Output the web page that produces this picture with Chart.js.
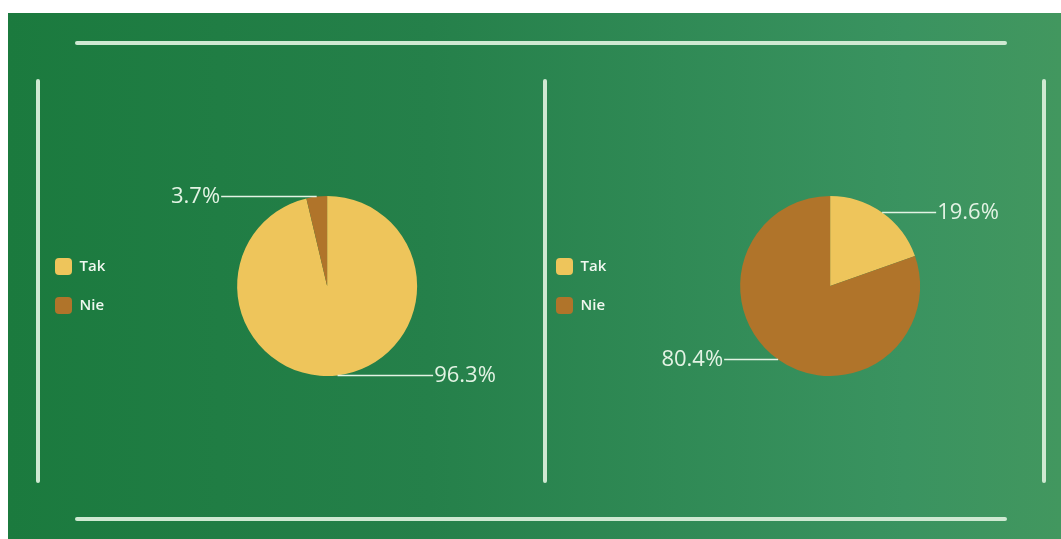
<!DOCTYPE html>
<html>
<head>
<meta charset="utf-8">
<script src="https://cdn.jsdelivr.net/npm/chart.js@4/dist/chart.umd.min.js"></script>
<style>
  html, body { margin: 0; padding: 0; background: #ffffff; width: 1061px; height: 539px; overflow: hidden; }
  #field { position: absolute; left: 8px; top: 13px; width: 1053px; height: 526px;
    background: linear-gradient(to right, #1b7a3e 0%, #25804a 40%, #3a9360 85%, #42975f 100%); }
  .ln { position: absolute; background: #cfe9d2; border-radius: 2px; }
  .wrap { position: absolute; }
</style>
</head>
<body>
<div id="field"></div>
<div class="ln" style="left:75px; top:41px; width:932px; height:4px;"></div>
<div class="ln" style="left:75px; top:517px; width:932px; height:4px;"></div>
<div class="ln" style="left:36px; top:79px; width:4px; height:404px;"></div>
<div class="ln" style="left:543px; top:79px; width:4px; height:404px;"></div>
<div class="ln" style="left:1042px; top:79px; width:4px; height:404px;"></div>
<div class="wrap" style="left:33px; top:136px; width:506px; height:300px;"><canvas id="c1"></canvas></div>
<div class="wrap" style="left:534px; top:136px; width:510px; height:300px;"><canvas id="c2"></canvas></div>
<script>
const categories = ['Tak', 'Nie'];
const chart1Values = [96.3, 3.7];
const chart2Values = [19.6, 80.4];
const sliceColors = ['#eec55b', '#b0742a'];
const textColor = '#e3f3e4';

const leaderLabels = {
  id: 'leaderLabels',
  afterDatasetsDraw(chart) {
    const ctx = chart.ctx;
    const meta = chart.getDatasetMeta(0);
    const data = chart.data.datasets[0].data;
    ctx.save();
    meta.data.forEach((arc, i) => {
      const p = arc.getProps(['x', 'y', 'startAngle', 'endAngle', 'outerRadius'], true);
      const mid = (p.startAngle + p.endAngle) / 2;
      const px = p.x + Math.cos(mid) * p.outerRadius;
      const py = p.y + Math.sin(mid) * p.outerRadius;
      const right = px >= p.x;
      const ex = right ? p.x + p.outerRadius + 16 : p.x - p.outerRadius - 16;
      ctx.strokeStyle = textColor;
      ctx.lineWidth = 1.5;
      ctx.beginPath();
      ctx.moveTo(px, py);
      ctx.lineTo(ex, py);
      ctx.stroke();
      ctx.fillStyle = textColor;
      ctx.font = '22px "Open Sans", sans-serif';
      ctx.textBaseline = 'middle';
      ctx.textAlign = right ? 'left' : 'right';
      ctx.fillText(data[i].toFixed(1) + '%', right ? ex + 1 : ex - 1, py);
    });
    ctx.restore();
  }
};

function makeChart(id, values) {
  return new Chart(document.getElementById(id), {
    type: 'pie',
    data: {
      labels: categories,
      datasets: [{ data: values, backgroundColor: sliceColors, borderWidth: 0 }]
    },
    options: {
      responsive: true,
      maintainAspectRatio: false,
      animation: false,
      layout: { padding: { top: 60, bottom: 60, left: 0, right: 0 } },
      plugins: {
        tooltip: { enabled: false },
        legend: {
          position: 'left',
          labels: {
            color: '#f0f8f0',
            font: { family: '"Open Sans", sans-serif', size: 15, weight: '600' },
            boxWidth: 17,
            boxHeight: 17,
            useBorderRadius: true,
            borderRadius: 4,
            padding: 22
          }
        }
      }
    },
    plugins: [leaderLabels]
  });
}
makeChart('c1', chart1Values);
makeChart('c2', chart2Values);
</script>
</body>
</html>
